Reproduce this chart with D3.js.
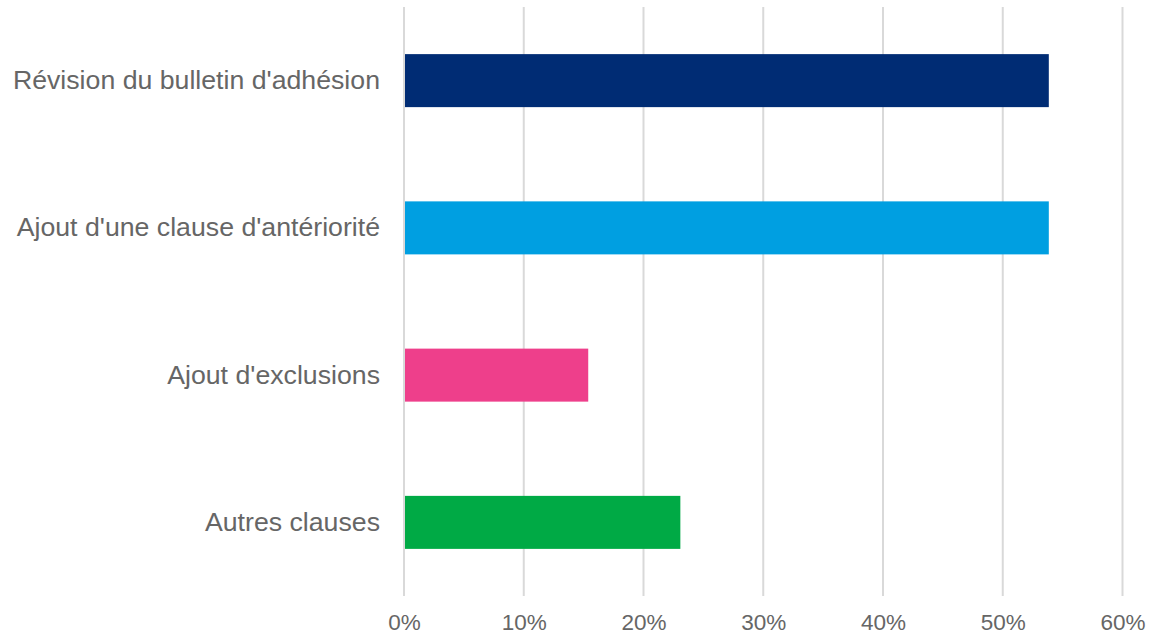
<!DOCTYPE html>
<html>
<head>
<meta charset="utf-8">
<script src="https://cdn.jsdelivr.net/npm/d3@7"></script>
<style>
  html, body { margin: 0; padding: 0; background: #ffffff; }
  svg { display: block; }
  text { font-family: "Liberation Sans", Arial, sans-serif; }
</style>
</head>
<body>
<svg id="chart" width="1150" height="635"></svg>
<script>
// Chart data
const categories = [
  "Révision du bulletin d'adhésion",
  "Ajout d'une clause d'antériorité",
  "Ajout d'exclusions",
  "Autres clauses"
];
const values = [7 / 13, 7 / 13, 2 / 13, 3 / 13];
const colors = ["#002C74", "#009FE1", "#EE3F8B", "#00AA45"];
const tickValues = [0, 0.1, 0.2, 0.3, 0.4, 0.5, 0.6];

const svg = d3.select("#chart");
const margin = { top: 7, left: 404, right: 28, bottom: 39 };
const width = 1150, height = 635;
const plotW = (1122.5 - margin.left);
const plotH = height - margin.top - margin.bottom;

const x = d3.scaleLinear().domain([0, 0.6]).range([margin.left, margin.left + plotW]);
const y = d3.scaleBand().domain(categories)
  .range([margin.top, margin.top + plotH])
  .paddingInner(0.64).paddingOuter(0.32);

// Vertical gridlines
svg.append("g").selectAll("line")
  .data(tickValues)
  .join("line")
  .attr("x1", d => x(d)).attr("x2", d => x(d))
  .attr("y1", margin.top).attr("y2", margin.top + plotH)
  .attr("stroke", "#d9d9d9").attr("stroke-width", 2);

// Bars
svg.append("g").selectAll("rect")
  .data(categories)
  .join("rect")
  .attr("x", x(0) + 1)
  .attr("y", d => y(d))
  .attr("width", (d, i) => x(values[i]) - x(0) - 1)
  .attr("height", y.bandwidth())
  .attr("fill", (d, i) => colors[i]);

// X axis tick labels
const xAxis = d3.axisBottom(x).tickValues(tickValues)
  .tickFormat(d3.format(".0%")).tickSize(0).tickPadding(0);
const gx = svg.append("g")
  .attr("transform", `translate(0, ${margin.top + plotH})`)
  .call(xAxis);
gx.select(".domain").remove();
gx.selectAll("text")
  .attr("dy", null)
  .attr("y", 34)
  .attr("fill", "#666666")
  .style("font-size", "22.5px")
  .style("font-family", "'Liberation Sans', Arial, sans-serif");

// Y axis category labels
const yAxis = d3.axisLeft(y).tickSize(0).tickPadding(0);
const gy = svg.append("g")
  .attr("transform", `translate(${margin.left - 24}, 0)`)
  .call(yAxis);
gy.select(".domain").remove();
gy.selectAll("text")
  .attr("fill", "#666666")
  .style("font-size", "26.7px")
  .style("font-family", "'Liberation Sans', Arial, sans-serif");
</script>
</body>
</html>
